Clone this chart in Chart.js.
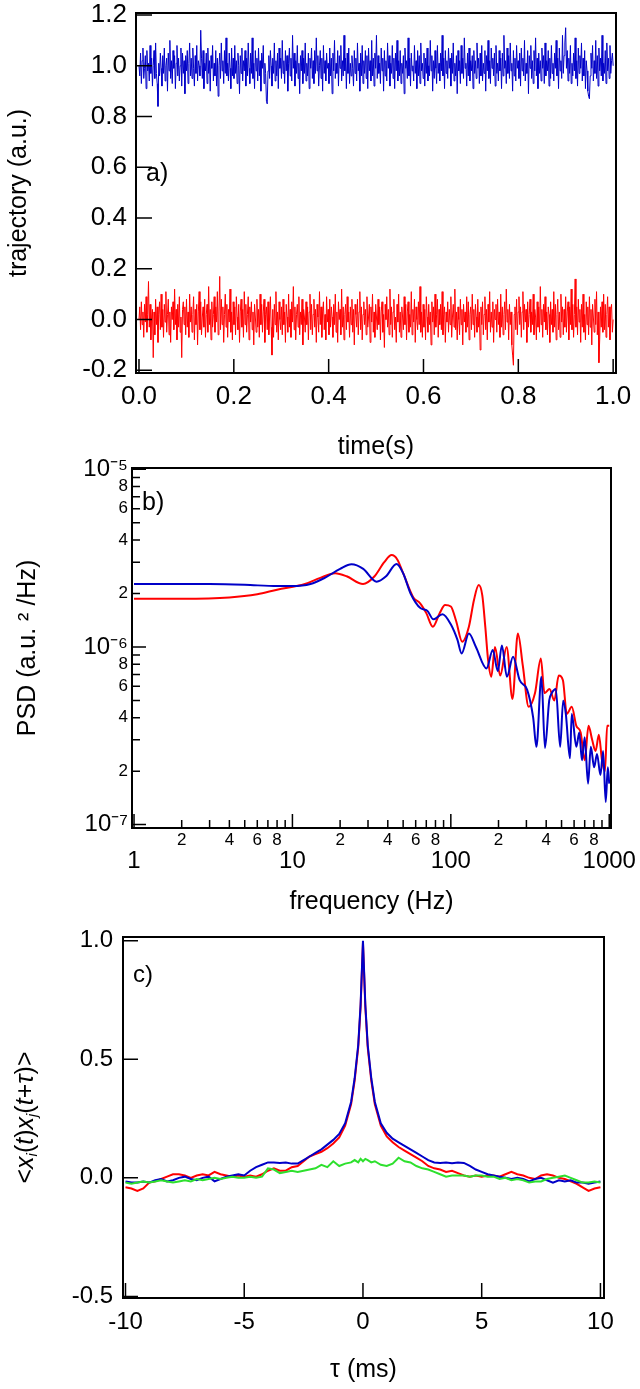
<!DOCTYPE html>
<html>
<head>
<meta charset="utf-8">
<script src="https://cdn.jsdelivr.net/npm/chart.js@4.4.0/dist/chart.umd.min.js"></script>
<style>
  html, body { margin: 0; padding: 0; background: #fff; }
  #page { position: relative; width: 640px; height: 1389px; overflow: hidden; background: #fff; }
  #page canvas { position: absolute; left: 0; }
</style>
</head>
<body>
<div id="page">
  <canvas id="chartA" width="640" height="500" style="top:-20px"></canvas>
  <canvas id="chartB" width="640" height="490" style="top:440px"></canvas>
  <canvas id="chartC" width="640" height="479" style="top:910px"></canvas>
</div>
<script>
// -- a) trajectories, read off the picture (evenly sampled over 1 s) --
const blueTrace = [
  1.00,0.96,1.05,0.93,1.02,1.07,0.95,0.99,1.04,0.91,1.06,0.98,1.01,0.94,1.08,0.97,1.03,0.92,1.00,1.06,0.95,1.09,0.97,0.93,0.84,1.01,0.96,1.05,0.99,0.92,
  1.04,0.97,1.07,0.94,1.00,1.03,0.90,1.05,0.98,1.10,0.95,1.02,0.93,1.06,0.99,1.04,0.91,1.01,1.08,0.96,1.03,0.94,1.00,1.07,0.92,1.05,0.97,1.02,0.89,1.04,
  0.98,1.06,0.93,1.01,1.09,0.96,1.03,0.95,1.07,0.99,0.92,1.04,0.97,1.08,0.94,1.02,1.00,0.96,1.14,1.03,0.95,1.06,0.91,1.01,0.98,1.05,0.93,1.07,0.97,1.02,
  0.90,1.04,0.99,1.08,0.94,1.01,0.96,1.06,0.92,1.03,0.88,1.00,1.05,0.95,1.09,0.98,1.02,0.93,1.06,0.97,1.11,0.96,1.01,0.94,1.05,0.99,0.91,1.07,0.96,1.03,
  0.95,1.08,0.97,1.02,0.93,1.05,1.00,0.89,1.04,0.97,1.07,0.94,1.02,0.98,1.06,0.92,1.03,0.96,1.09,0.99,0.93,1.05,0.97,1.11,0.95,1.01,0.91,1.06,0.98,1.03,
  0.94,1.07,0.96,1.02,0.90,1.05,0.99,1.08,0.93,1.01,0.97,0.86,0.85,0.98,1.04,0.95,1.06,1.00,0.92,1.03,0.97,1.09,0.94,1.02,0.96,1.05,0.91,1.07,0.99,1.03,
  0.95,1.10,0.97,1.02,0.93,1.06,0.98,1.04,0.90,1.01,1.07,0.96,1.03,0.94,1.12,0.99,1.05,0.92,1.02,0.97,1.08,0.95,1.01,0.89,1.04,0.98,1.06,0.93,1.03,0.97,
  1.09,0.94,1.01,0.96,1.05,0.91,1.03,0.99,1.07,0.95,1.02,0.93,1.06,0.97,1.11,0.98,1.04,0.92,1.00,1.06,0.95,1.03,0.90,1.08,0.97,1.02,0.94,1.05,0.99,1.01,
  0.93,1.07,0.96,1.03,0.89,1.05,0.98,1.10,0.95,1.01,0.97,1.06,0.92,1.04,0.99,1.08,0.94,1.02,0.96,1.12,0.98,1.03,0.91,1.05,0.97,1.07,0.93,1.01,0.96,1.04,
  0.99,0.92,1.06,0.97,1.03,0.94,1.09,0.98,1.01,0.90,1.05,0.96,1.08,0.93,1.02,0.97,1.06,0.95,1.04,0.91,1.07,0.98,1.02,0.94,1.10,0.96,1.03,0.92,1.05,0.99,
  1.12,0.95,1.04,0.97,1.01,0.93,1.07,0.98,1.03,0.90,1.06,0.96,1.02,0.94,1.09,0.99,1.04,0.92,1.01,0.97,1.08,0.95,1.03,0.91,1.05,0.98,1.10,0.94,1.02,0.96,
  1.06,0.93,1.01,0.97,1.04,0.89,1.07,0.99,1.02,0.95,1.11,0.96,1.03,0.92,1.05,0.98,1.00,0.94,1.08,0.97,1.02,0.91,1.06,0.96,1.04,0.93,1.09,0.98,1.01,0.95,
  1.05,0.92,1.03,0.97,1.07,0.94,1.00,0.96,1.10,0.98,1.04,0.90,1.02,0.95,1.06,0.99,0.93,1.08,0.97,1.01,0.94,1.05,0.98,1.12,0.96,1.03,0.91,1.06,0.97,1.02,
  0.95,1.07,0.99,1.03,0.92,1.05,0.97,1.09,0.94,1.01,0.96,1.04,0.89,1.06,0.98,1.02,0.93,1.08,0.97,1.03,0.95,1.11,0.99,1.01,0.92,1.05,0.96,1.07,0.94,1.02,
  0.98,1.04,0.91,1.06,0.97,1.02,0.95,1.09,0.99,1.03,0.93,1.05,0.96,1.08,0.94,1.01,0.97,1.06,0.90,1.04,0.98,1.10,0.95,1.02,0.93,1.07,0.99,1.03,0.96,1.05,
  0.92,1.08,0.97,1.01,0.94,1.06,0.98,1.03,0.91,1.05,0.96,1.12,0.99,1.02,0.93,1.07,0.97,1.04,0.95,1.09,0.98,1.01,0.90,1.06,0.96,1.03,0.94,1.08,0.99,1.02,
  0.95,1.05,0.92,1.07,0.98,1.03,0.96,1.10,0.94,1.01,0.97,1.06,0.89,1.04,0.99,1.08,0.95,1.02,0.93,1.06,0.98,1.11,0.96,1.03,0.91,1.05,0.97,1.02,0.94,1.07,
  0.99,1.04,0.93,1.09,0.96,1.02,0.98,1.06,0.92,1.03,0.95,1.08,0.97,1.01,0.94,1.05,0.99,1.10,0.96,1.03,0.91,1.07,0.98,1.02,0.95,1.12,0.97,1.04,1.09,1.15,
  0.99,1.06,0.94,1.03,0.97,1.08,0.93,1.01,0.96,1.05,0.98,1.11,0.95,1.02,0.92,1.07,0.97,1.04,0.99,1.09,0.94,1.03,0.96,1.06,0.91,1.02,0.98,0.90,0.88,0.87,
  0.96,1.05,0.99,1.08,0.94,1.02,0.97,1.10,0.95,1.04,0.92,1.07,0.98,1.03,0.96,1.12,0.94,1.01,0.97,1.06,0.93,1.09,0.98,1.03,0.95,1.08,0.97,1.02,1.05,1.00
];
const redTrace = [
  0.00,0.05,-0.04,0.07,-0.02,0.03,-0.07,0.06,-0.01,0.09,-0.05,0.02,0.15,-0.03,0.06,-0.08,0.01,0.04,-0.15,0.03,-0.06,0.08,-0.02,0.05,-0.09,0.02,0.07,-0.04,0.10,-0.03,
  0.04,-0.07,0.06,-0.01,0.11,-0.05,0.02,0.08,-0.06,0.03,-0.09,0.05,0.00,0.07,-0.04,0.12,-0.02,0.04,-0.08,0.06,-0.03,0.09,-0.05,0.01,-0.15,0.04,0.07,-0.02,0.05,-0.06,
  0.08,-0.03,0.03,-0.07,0.10,-0.01,0.05,-0.05,0.02,0.09,-0.08,0.04,-0.02,0.06,-0.10,0.03,0.11,-0.04,0.07,-0.06,0.01,0.05,-0.03,0.08,-0.07,0.02,0.06,-0.05,0.13,-0.02,
  0.04,-0.08,0.07,-0.03,0.02,0.09,-0.05,0.05,-0.01,0.11,-0.06,0.03,0.17,-0.04,0.08,-0.02,0.05,-0.09,0.02,0.10,-0.03,0.06,-0.07,0.04,-0.01,0.12,-0.05,0.03,-0.08,0.07,
  -0.02,0.05,-0.06,0.09,0.01,-0.04,0.06,-0.09,0.03,0.08,-0.03,0.04,-0.07,0.11,-0.02,0.06,-0.05,0.02,0.09,-0.08,0.05,-0.01,0.07,-0.04,0.03,-0.10,0.06,0.01,-0.05,0.08,
  -0.03,0.04,-0.07,0.10,-0.02,0.06,-0.05,0.03,0.08,-0.09,0.02,0.05,-0.04,0.07,-0.06,0.01,0.09,-0.03,-0.14,0.04,-0.07,0.06,-0.02,0.11,-0.05,0.03,-0.08,0.07,0.00,-0.04,
  0.05,-0.06,0.08,-0.02,0.03,-0.09,0.06,0.01,-0.05,0.10,-0.03,0.04,-0.07,0.07,-0.01,0.13,-0.04,0.05,-0.08,0.02,0.06,-0.03,0.09,-0.06,0.03,-0.02,0.08,-0.10,0.04,0.01,
  -0.05,0.07,-0.02,0.05,-0.08,0.03,0.10,-0.04,0.06,-0.06,0.02,0.08,-0.03,0.04,-0.09,0.06,0.01,-0.05,0.11,-0.02,0.05,-0.07,0.03,0.07,-0.04,0.02,-0.08,0.09,-0.01,0.04,
  -0.06,0.08,-0.03,0.05,0.01,-0.07,0.06,-0.02,0.10,-0.05,0.03,-0.09,0.07,0.00,0.04,-0.06,0.12,-0.03,0.05,-0.08,0.02,0.06,-0.04,0.09,-0.01,0.03,-0.07,0.05,-0.02,0.08,
  -0.05,0.04,-0.10,0.06,0.02,-0.03,0.08,-0.06,0.03,0.11,-0.04,0.05,-0.08,0.02,0.07,-0.02,0.04,-0.06,0.09,-0.03,0.01,0.06,-0.09,0.05,-0.01,0.10,-0.05,0.03,-0.07,0.06,
  0.01,-0.04,0.08,-0.02,0.05,-0.08,0.03,0.07,-0.05,0.02,-0.11,0.06,0.00,0.09,-0.03,0.04,-0.06,0.12,-0.02,0.05,-0.07,0.03,0.08,-0.04,0.01,-0.09,0.06,-0.01,0.10,-0.05,
  0.03,-0.07,0.05,0.01,-0.04,0.09,-0.02,0.06,-0.08,0.03,0.07,-0.05,0.02,-0.03,0.11,-0.06,0.04,-0.01,0.08,-0.09,0.05,0.00,-0.04,0.07,-0.02,0.13,-0.05,0.03,-0.07,0.06,
  -0.03,0.04,-0.08,0.09,0.01,-0.05,0.06,-0.02,0.03,-0.10,0.07,-0.01,0.05,-0.06,0.10,-0.03,0.02,0.08,-0.07,0.04,-0.02,0.06,-0.04,0.11,-0.06,0.02,0.05,-0.09,0.03,-0.01,
  0.07,-0.05,0.04,-0.02,0.09,-0.07,0.01,0.06,-0.03,0.12,-0.04,0.03,-0.08,0.05,0.00,-0.06,0.08,-0.02,0.04,-0.10,0.06,-0.01,0.03,-0.05,0.09,-0.03,0.07,-0.08,0.02,0.05,
  -0.04,0.10,-0.02,0.04,-0.07,0.06,0.01,-0.05,0.08,-0.03,0.03,-0.12,0.05,-0.02,0.07,-0.06,0.02,0.09,-0.04,0.04,-0.08,0.06,-0.01,0.11,-0.05,0.03,-0.03,0.07,-0.09,0.04,
  0.00,0.06,-0.05,0.08,-0.02,0.03,-0.07,0.10,-0.03,0.05,-0.06,0.02,0.07,-0.04,0.12,-0.01,0.04,-0.08,0.06,-0.02,0.03,-0.10,-0.14,-0.18,0.02,0.05,-0.04,0.08,-0.06,0.03,
  0.09,-0.02,0.05,-0.07,0.03,0.11,-0.04,0.06,-0.01,0.04,-0.09,0.07,-0.03,0.02,0.08,-0.05,0.03,-0.02,0.10,-0.06,0.04,0.01,-0.08,0.07,-0.03,0.05,-0.05,0.13,-0.02,0.04,
  -0.07,0.06,-0.01,0.09,-0.04,0.03,-0.06,0.05,0.02,-0.09,0.07,-0.02,0.04,-0.05,0.11,-0.03,0.06,-0.08,0.02,0.08,-0.04,0.03,-0.07,0.10,-0.01,0.05,-0.06,0.04,-0.03,0.09,
  -0.05,0.03,0.07,-0.08,0.05,-0.02,0.12,-0.04,0.06,-0.07,0.02,0.16,-0.03,0.05,-0.06,0.08,-0.01,0.04,-0.09,0.06,-0.03,0.10,-0.05,0.02,-0.08,0.07,-0.02,0.05,-0.06,0.09,
  -0.03,0.04,-0.10,0.06,0.01,-0.05,0.08,-0.02,0.11,-0.06,0.03,-0.17,-0.08,0.05,-0.03,0.07,-0.05,0.10,-0.04,0.06,-0.07,0.02,0.09,-0.03,0.05,-0.08,0.04,0.06,-0.05,0.00
];
const recordLength = 1.0; // s
const timeTicks = [0, 0.2, 0.4, 0.6, 0.8, 1.0];
const trajTicks = [-0.2, 0, 0.2, 0.4, 0.6, 0.8, 1.0, 1.2];

// -- b) power spectral density --
const freqBlue = [1,2,3,5,8,10,13,16,20,23.6,28,34,39,45.4,50,55.7,64.5,71,77.6,88.6,100.5,110,117,130,144,168,184,198,210,226,247,272,303,331,347,373,393,418,434,460,490,512,532,565,580,620,647,673,700,735,765,803,837,880,915,950,980,1000];
const psdBlue = [2.26e-6,2.26e-6,2.26e-6,2.24e-6,2.2e-6,2.2e-6,2.26e-6,2.45e-6,2.75e-6,2.92e-6,2.75e-6,2.33e-6,2.5e-6,2.93e-6,2.6e-6,2.0e-6,1.65e-6,1.6e-6,1.43e-6,1.53e-6,1.33e-6,1.1e-6,9.2e-7,1.19e-6,1.0e-6,7.57e-7,9.6e-7,7.3e-7,1.02e-6,6.8e-7,8.8e-7,6.5e-7,5.75e-7,4.0e-7,2.74e-7,6.8e-7,2.7e-7,5.0e-7,5.5e-7,5.8e-7,2.74e-7,5.0e-7,4.2e-7,2.36e-7,4.2e-7,2.74e-7,3.3e-7,2.3e-7,3.1e-7,1.7e-7,2.74e-7,2.1e-7,2.5e-7,1.9e-7,2.6e-7,1.34e-7,2.1e-7,1.7e-7];
const freqRed = [1,2,4,6,8,12,15,18.6,22,27.9,33,38,42.3,46,50,58,64,70,77,85,92,100,108,118,130,140,150,158,165,172,180,190,205,225,245,265,285,310,340,370,390,420,450,480,510,540,580,620,660,700,740,780,820,860,900,940,970,1000];
const psdRed = [1.87e-6,1.87e-6,1.9e-6,1.98e-6,2.1e-6,2.26e-6,2.45e-6,2.6e-6,2.5e-6,2.26e-6,2.5e-6,3.0e-6,3.29e-6,3.1e-6,2.6e-6,1.9e-6,1.76e-6,1.55e-6,1.3e-6,1.55e-6,1.72e-6,1.69e-6,1.4e-6,1.07e-6,1.3e-6,1.84e-6,2.23e-6,1.95e-6,1.3e-6,8.4e-7,6.8e-7,1.0e-6,6.9e-7,1.0e-6,5.1e-7,1.19e-6,7.8e-7,4.6e-7,5.5e-7,8.6e-7,5.5e-7,5.8e-7,5.0e-7,6.9e-7,6.5e-7,4.2e-7,4.6e-7,3.6e-7,3.3e-7,2.3e-7,3.6e-7,3.0e-7,2.6e-7,3.2e-7,2.3e-7,2.0e-7,3.6e-7,3.6e-7];
const freqTicks = [1,2,3,4,5,6,7,8,9,10,20,30,40,50,60,70,80,90,100,200,300,400,500,600,700,800,900,1000];
const freqTickLabels = ['1','2','','4','','6','','8','','10','2','','4','','6','','8','','100','2','','4','','6','','8','','1000'];
const freqMajor = [1, 10, 100, 1000];
const psdTicks = [1e-7,2e-7,3e-7,4e-7,5e-7,6e-7,7e-7,8e-7,9e-7,1e-6,2e-6,3e-6,4e-6,5e-6,6e-6,7e-6,8e-6,9e-6,1e-5];
const psdTickLabels = ['10\u207B\u2077','2','','4','','6','','8','','10\u207B\u2076','2','','4','','6','','8','','10\u207B\u2075'];
const psdMajor = [1e-7, 1e-6, 1e-5];

// -- c) correlation functions --
const lagMs = [-10,-9.75,-9.5,-9.25,-9,-8.75,-8.5,-8.25,-8,-7.75,-7.5,-7.25,-7,-6.75,-6.5,-6.25,-6,-5.75,-5.5,-5.25,-5,-4.75,-4.5,-4.25,-4,-3.75,-3.5,-3.25,-3,-2.75,-2.5,-2.25,-2,-1.75,-1.5,
  -1.25,-1,-0.75,-0.5,-0.35,-0.2,-0.1,0,0.1,0.2,0.35,0.5,0.75,1,1.25,
  1.5,1.75,2,2.25,2.5,2.75,3,3.25,3.5,3.75,4,4.25,4.5,4.75,5,5.25,5.5,5.75,6,6.25,6.5,6.75,7,7.25,7.5,7.75,8,8.25,8.5,8.75,9,9.25,9.5,9.75,10];
const corrBlue = [-0.015,-0.02,-0.02,-0.015,-0.02,-0.01,-0.005,-0.015,-0.01,0.0,0.005,-0.005,-0.01,0.0,0.005,-0.015,-0.005,0.005,0.01,0.015,0.01,0.03,0.045,0.055,0.065,0.065,0.063,0.065,0.06,0.06,0.075,0.09,0.105,0.12,0.14,
  0.16,0.185,0.23,0.32,0.42,0.56,0.73,1.0,0.73,0.56,0.42,0.32,0.23,0.19,0.165,
  0.15,0.135,0.12,0.105,0.09,0.075,0.065,0.063,0.065,0.062,0.065,0.063,0.05,0.035,0.025,0.015,0.01,0.005,0.0,-0.005,0.0,-0.005,-0.015,-0.005,0.0,-0.01,-0.02,-0.01,-0.015,-0.01,-0.02,-0.02,-0.025,-0.02,-0.015];
const corrRed = [-0.04,-0.045,-0.055,-0.045,-0.02,-0.015,-0.005,0.005,0.015,0.015,0.01,0.0,0.01,0.015,0.01,0.025,0.015,0.01,0.005,0.01,0.005,0.01,0.005,0.015,0.03,0.04,0.03,0.03,0.045,0.05,0.07,0.09,0.1,0.11,0.125,
  0.145,0.17,0.22,0.31,0.41,0.55,0.72,0.99,0.72,0.55,0.41,0.31,0.22,0.175,0.15,
  0.13,0.115,0.1,0.085,0.07,0.05,0.04,0.035,0.025,0.03,0.02,0.01,0.005,0.01,0.005,0.01,0.01,0.005,0.015,0.025,0.015,0.01,0.0,-0.005,0.01,0.015,0.01,0.0,-0.005,-0.015,-0.025,-0.04,-0.055,-0.045,-0.04];
const corrGreen = [-0.02,-0.025,-0.02,-0.015,-0.02,-0.015,-0.01,-0.015,-0.02,-0.015,-0.01,-0.015,-0.005,-0.01,-0.005,0.0,-0.005,0.0,0.005,0.0,0.0,0.005,0.0,0.005,0.04,0.035,0.02,0.025,0.03,0.025,0.03,0.035,0.04,0.055,0.045,
  0.07,0.05,0.06,0.065,0.075,0.065,0.08,0.07,0.08,0.075,0.065,0.07,0.055,0.05,0.06,
  0.085,0.07,0.065,0.05,0.04,0.035,0.025,0.015,0.005,0.01,0.01,0.01,0.005,0.01,0.01,0.005,0.005,-0.005,0.0,-0.01,-0.005,-0.01,-0.02,-0.015,-0.015,-0.005,0.0,0.005,0.01,0.0,-0.01,-0.02,-0.02,-0.015,-0.02];
const lagTicks = [-10, -5, 0, 5, 10];
const corrTicks = [-0.5, 0, 0.5, 1.0];

const FONT = "'Liberation Sans', Arial, Helvetica, sans-serif";
const BLUE = '#0000c8';
const RED = '#ff0000';
const GREEN = '#2ee02e';

// --- frame, inward ticks and panel letter ---
const boxTicks = {
  id: 'boxTicks',
  afterDraw(chart, args, o) {
    const {ctx, chartArea: a, scales: {x, y}} = chart;
    ctx.save();
    ctx.strokeStyle = '#000';
    ctx.lineWidth = 1.5;
    ctx.beginPath();
    for (const t of x.ticks) {
      const px = x.getPixelForValue(t.value);
      ctx.moveTo(px, a.bottom);
      ctx.lineTo(px, a.bottom - (t.minor ? o.minor : o.xLen));
    }
    for (const t of y.ticks) {
      const py = y.getPixelForValue(t.value);
      ctx.moveTo(a.left, py);
      ctx.lineTo(a.left + (t.minor ? o.minor : o.yLen), py);
    }
    ctx.stroke();
    ctx.lineWidth = 2;
    ctx.strokeRect(a.left, a.top, a.right - a.left, a.bottom - a.top);
    ctx.fillStyle = '#000';
    ctx.font = o.letterSize + 'px ' + FONT;
    ctx.textAlign = 'left';
    ctx.textBaseline = 'middle';
    ctx.fillText(o.letter, a.left + 10, y.getPixelForValue(o.letterY));
    if (o.yTitle) o.yTitle(ctx, a);
    ctx.restore();
  }
};

// --- <x_i(t)x_j(t+tau)> with real subscripts ---
function corrTitle(ctx, a) {
  const parts = [
    ['<', '', 25, 0], ['x', 'italic ', 25, 0], ['i', 'italic ', 15, 7],
    ['(', '', 25, 0], ['t', 'italic ', 25, 0], [')', '', 25, 0],
    ['x', 'italic ', 25, 0], ['j', 'italic ', 15, 7],
    ['(', '', 25, 0], ['t', 'italic ', 25, 0], ['+', '', 25, 0], ['\u03C4', 'italic ', 25, 0], [')', '', 25, 0], ['>', '', 25, 0]
  ];
  let w = 0;
  for (const p of parts) { ctx.font = p[1] + p[2] + 'px ' + FONT; w += ctx.measureText(p[0]).width; }
  ctx.save();
  ctx.translate(26, (a.top + a.bottom) / 2);
  ctx.rotate(-Math.PI / 2);
  ctx.textAlign = 'left';
  ctx.textBaseline = 'middle';
  let cx = -w / 2;
  for (const p of parts) {
    ctx.font = p[1] + p[2] + 'px ' + FONT;
    ctx.fillText(p[0], cx, p[3]);
    cx += ctx.measureText(p[0]).width;
  }
  ctx.restore();
}

function fixedTicks(list, majors) {
  return s => { s.ticks = list.map(v => ({value: v, major: !majors || majors.includes(v), minor: !!majors && !majors.includes(v)})); };
}

function baseOptions(padTop) {
  return {
    responsive: false,
    animation: false,
    layout: {padding: {left: 0, right: 0, top: padTop, bottom: 0}},
    plugins: {legend: {display: false}, tooltip: {enabled: false}},
    elements: {point: {radius: 0}}
  };
}

// ===== panel a =====
let optA = baseOptions(33);
optA.layout.padding.right = 24;
optA.plugins.boxTicks = {xLen: 14, yLen: 16, minor: 8, letter: 'a)', letterY: 0.573, letterSize: 25};
optA.scales = {
  x: {
    type: 'linear', min: -0.0063, max: 1.006,
    afterBuildTicks: fixedTicks(timeTicks),
    afterFit: s => { s.height = 107; },
    grid: {display: false, drawTicks: false}, border: {display: false},
    ticks: {autoSkip: false, maxRotation: 0, padding: 8, color: '#000', font: {family: FONT, size: 26}, callback: v => v.toFixed(1)},
    title: {display: true, text: 'time(s)', color: '#000', font: {family: FONT, size: 25}, padding: {top: 0, bottom: 18}}
  },
  y: {
    type: 'linear', min: -0.2106, max: 1.208,
    afterBuildTicks: fixedTicks(trajTicks),
    afterFit: s => { s.width = 136; },
    grid: {display: false, drawTicks: false}, border: {display: false},
    ticks: {autoSkip: false, padding: 9, color: '#000', font: {family: FONT, size: 26}, callback: v => v.toFixed(1)},
    title: {display: true, text: 'trajectory (a.u.)', color: '#000', font: {family: FONT, size: 25}, padding: {top: 4, bottom: 0}}
  }
};
new Chart(document.getElementById('chartA'), {
  type: 'line',
  data: {
    datasets: [
      {data: blueTrace.map((v, i) => ({x: i * recordLength / (blueTrace.length - 1), y: v})), borderColor: BLUE, borderWidth: 1, tension: 0},
      {data: redTrace.map((v, i) => ({x: i * recordLength / (redTrace.length - 1), y: v})), borderColor: RED, borderWidth: 1, tension: 0}
    ]
  },
  options: optA,
  plugins: [boxTicks]
});

// ===== panel b =====
let optB = baseOptions(28);
optB.layout.padding.right = 29;
optB.plugins.boxTicks = {xLen: 14, yLen: 14, minor: 8, letter: 'b)', letterY: 6.43e-6, letterSize: 25};
optB.scales = {
  x: {
    type: 'logarithmic', min: 0.971, max: 1026,
    afterBuildTicks: fixedTicks(freqTicks, freqMajor),
    afterFit: s => { s.height = 102; },
    grid: {display: false, drawTicks: false}, border: {display: false},
    ticks: {
      autoSkip: false, maxRotation: 0, minRotation: 0, padding: 3, color: '#000',
      font: c => (c.tick && c.tick.major) ? {family: FONT, size: 24, lineHeight: 0.85} : {family: FONT, size: 17, lineHeight: 1.15},
      callback: (v, i, t) => t[i].major ? ['', freqTickLabels[i]] : freqTickLabels[i]
    },
    title: {display: true, text: 'frequency (Hz)', color: '#000', font: {family: FONT, size: 25}, padding: {top: 0, bottom: 13}}
  },
  y: {
    type: 'logarithmic', min: 9.57e-8, max: 1.017e-5,
    afterBuildTicks: fixedTicks(psdTicks, psdMajor),
    afterFit: s => { s.width = 132; },
    grid: {display: false, drawTicks: false}, border: {display: false},
    ticks: {
      autoSkip: false, padding: 4, color: '#000',
      font: c => (c.tick && c.tick.major) ? {family: FONT, size: 24} : {family: FONT, size: 17},
      callback: (v, i) => psdTickLabels[i]
    },
    title: {display: true, text: 'PSD (a.u. \u00B2 /Hz)', color: '#000', font: {family: FONT, size: 25}, padding: {top: 13, bottom: 0}}
  }
};
new Chart(document.getElementById('chartB'), {
  type: 'line',
  data: {
    datasets: [
      {data: freqBlue.map((f, i) => ({x: f, y: psdBlue[i]})), borderColor: BLUE, borderWidth: 2, cubicInterpolationMode: 'monotone'},
      {data: freqRed.map((f, i) => ({x: f, y: psdRed[i]})), borderColor: RED, borderWidth: 2, cubicInterpolationMode: 'monotone'}
    ]
  },
  options: optB,
  plugins: [boxTicks]
});

// ===== panel c =====
let optC = baseOptions(27);
optC.layout.padding.right = 36;
optC.plugins.boxTicks = {xLen: 15, yLen: 15, minor: 8, letter: 'c)', letterY: 0.855, letterSize: 24, yTitle: corrTitle};
optC.scales = {
  x: {
    type: 'linear', min: -10.105, max: 10.15,
    afterBuildTicks: fixedTicks(lagTicks),
    afterFit: s => { s.height = 91; },
    grid: {display: false, drawTicks: false}, border: {display: false},
    ticks: {autoSkip: false, maxRotation: 0, padding: 10, color: '#000', font: {family: FONT, size: 24}, callback: v => String(v)},
    title: {display: true, text: '\u03C4 (ms)', color: '#000', font: {family: FONT, size: 25}, padding: {top: 0, bottom: 4}}
  },
  y: {
    type: 'linear', min: -0.5067, max: 1.0156,
    afterBuildTicks: fixedTicks(corrTicks),
    afterFit: s => { s.width = 123; },
    grid: {display: false, drawTicks: false}, border: {display: false},
    ticks: {autoSkip: false, padding: 10, color: '#000', font: {family: FONT, size: 24}, callback: v => v.toFixed(1)}
  }
};
new Chart(document.getElementById('chartC'), {
  type: 'line',
  data: {
    datasets: [
      {data: lagMs.map((l, i) => ({x: l, y: corrGreen[i]})), borderColor: GREEN, borderWidth: 2, tension: 0},
      {data: lagMs.map((l, i) => ({x: l, y: corrBlue[i]})), borderColor: BLUE, borderWidth: 2, tension: 0},
      {data: lagMs.map((l, i) => ({x: l, y: corrRed[i]})), borderColor: RED, borderWidth: 2, tension: 0}
    ]
  },
  options: optC,
  plugins: [boxTicks]
});
</script>
</body>
</html>
